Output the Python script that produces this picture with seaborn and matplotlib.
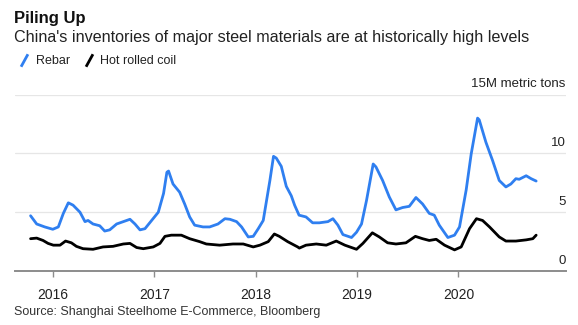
import matplotlib
matplotlib.use("Agg")
import matplotlib.pyplot as plt
from matplotlib.lines import Line2D
from matplotlib.path import Path
import pandas as pd
import seaborn as sns

# Weekly inventory readings, million metric tons
rebar_dates = [
    "2015-10-13", "2015-11-04", "2015-12-03", "2016-01-01", "2016-01-21", "2016-02-08",
    "2016-02-26", "2016-03-14", "2016-04-08", "2016-04-26", "2016-05-07", "2016-05-25",
    "2016-06-18", "2016-07-06", "2016-07-24", "2016-08-18", "2016-09-11", "2016-10-05",
    "2016-10-23", "2016-11-10", "2016-11-28", "2016-12-22", "2017-01-15", "2017-02-03",
    "2017-02-15", "2017-02-21", "2017-03-09", "2017-04-02", "2017-04-20", "2017-05-08",
    "2017-05-26", "2017-06-25", "2017-07-19", "2017-08-18", "2017-09-12", "2017-09-30",
    "2017-10-24", "2017-11-11", "2017-12-05", "2017-12-23", "2018-01-10", "2018-01-28",
    "2018-02-21", "2018-03-06", "2018-03-16", "2018-04-03", "2018-04-21", "2018-05-09",
    "2018-05-21", "2018-06-06", "2018-07-01", "2018-07-25", "2018-08-18", "2018-09-18",
    "2018-10-06", "2018-10-24", "2018-11-11", "2018-12-12", "2018-12-30", "2019-01-17",
    "2019-02-04", "2019-02-28", "2019-03-10", "2019-04-03", "2019-04-27", "2019-05-21",
    "2019-06-14", "2019-07-08", "2019-08-01", "2019-08-25", "2019-09-18", "2019-10-06",
    "2019-10-24", "2019-11-24", "2019-12-18", "2020-01-05", "2020-01-29", "2020-02-16",
    "2020-03-10", "2020-03-16", "2020-04-09", "2020-05-03", "2020-05-27", "2020-06-20",
    "2020-07-08", "2020-07-26", "2020-08-07", "2020-09-01", "2020-09-19", "2020-10-07",
]
rebar_values = [
    4.7, 4.0, 3.75, 3.55, 3.75, 4.9,
    5.8, 5.6, 5.0, 4.2, 4.3, 4.0,
    3.85, 3.4, 3.5, 4.0, 4.2, 4.4,
    4.0, 3.5, 3.6, 4.3, 5.0, 6.6,
    8.4, 8.5, 7.4, 6.7, 5.7, 4.6,
    3.9, 3.75, 3.75, 4.0, 4.45, 4.4,
    4.2, 3.75, 2.9, 2.95, 3.6, 4.3,
    7.7, 9.75, 9.6, 8.9, 7.2, 6.4,
    5.6, 4.75, 4.6, 4.1, 4.1, 4.2,
    4.45, 3.9, 3.1, 2.85, 3.3, 4.0,
    6.0, 9.1, 8.85, 7.7, 6.3, 5.2,
    5.4, 5.5, 6.25, 5.7, 4.9, 4.75,
    3.9, 2.85, 3.05, 3.75, 6.9, 9.95,
    13.0, 12.85, 10.95, 9.4, 7.7, 7.15,
    7.4, 7.85, 7.8, 8.1, 7.85, 7.65,
]

coil_dates = [
    "2015-10-13", "2015-11-04", "2015-11-27", "2015-12-15", "2016-01-03", "2016-01-27",
    "2016-02-16", "2016-03-08", "2016-03-26", "2016-04-19", "2016-05-25", "2016-06-30",
    "2016-08-05", "2016-09-11", "2016-10-05", "2016-10-29", "2016-11-22", "2016-12-28",
    "2017-01-21", "2017-02-08", "2017-03-03", "2017-04-08", "2017-05-08", "2017-06-13",
    "2017-07-07", "2017-08-24", "2017-10-11", "2017-11-17", "2017-12-23", "2018-01-16",
    "2018-02-15", "2018-03-09", "2018-03-27", "2018-04-26", "2018-06-01", "2018-06-07",
    "2018-07-01", "2018-08-07", "2018-09-12", "2018-10-18", "2018-11-18", "2018-12-30",
    "2019-01-22", "2019-02-25", "2019-03-22", "2019-04-21", "2019-05-21", "2019-06-26",
    "2019-07-30", "2019-08-25", "2019-09-18", "2019-10-13", "2019-11-12", "2019-12-18",
    "2020-01-11", "2020-02-10", "2020-03-06", "2020-03-28", "2020-04-22", "2020-05-27",
    "2020-06-20", "2020-07-26", "2020-09-01", "2020-09-25", "2020-10-07",
]
coil_values = [
    2.75, 2.8, 2.6, 2.35, 2.2, 2.2,
    2.55, 2.4, 2.1, 1.9, 1.85, 2.05,
    2.1, 2.3, 2.35, 2.0, 1.9, 2.05,
    2.35, 2.95, 3.05, 3.05, 2.75, 2.5,
    2.3, 2.2, 2.3, 2.3, 2.05, 2.2,
    2.5, 3.15, 2.95, 2.5, 2.05, 1.95,
    2.2, 2.3, 2.2, 2.55, 2.2, 1.85,
    2.35, 3.25, 2.9, 2.4, 2.3, 2.4,
    2.95, 2.75, 2.6, 2.7, 2.2, 1.8,
    2.05, 3.6, 4.45, 4.3, 3.75, 2.9,
    2.55, 2.55, 2.65, 2.75, 3.05,
]

series_names = ["Rebar", "Hot rolled coil"]
series_colors = ["#2f7ff0", "#000000"]
year_ticks = ["2016", "2017", "2018", "2019", "2020"]
y_ticks = [0, 5, 10, 15]

df = pd.concat([
    pd.DataFrame({"date": pd.to_datetime(rebar_dates), "value": rebar_values, "series": series_names[0]}),
    pd.DataFrame({"date": pd.to_datetime(coil_dates), "value": coil_values, "series": series_names[1]}),
], ignore_index=True)

sns.set_theme(style="white")
plt.rcParams["font.family"] = ["Liberation Sans", "DejaVu Sans"]

fig = plt.figure(figsize=(5.78, 3.25), dpi=100)
ax = fig.add_axes([0.026, 0.166, 0.953, 0.543])

sns.lineplot(data=df, x="date", y="value", hue="series", hue_order=series_names,
             palette=dict(zip(series_names, series_colors)), linewidth=2.0,
             legend=False, ax=ax, estimator=None)

ax.set_xlim(pd.Timestamp("2015-08-18"), pd.Timestamp("2021-01-22"))
ax.set_ylim(0, 15)
ax.set_xlabel("")
ax.set_ylabel("")

# horizontal gridlines
for v in y_ticks[1:]:
    ax.axhline(v, color="#e6e6e6", linewidth=0.9, zorder=0)

for side in ["top", "right", "left"]:
    ax.spines[side].set_visible(False)
ax.spines["bottom"].set_color("#8c8c8c")
ax.spines["bottom"].set_linewidth(1.4)

ax.set_xticks([pd.Timestamp(f"{y}-01-01") for y in year_ticks])
ax.set_xticklabels(year_ticks)
ax.tick_params(axis="x", direction="out", length=4, width=1.0, color="#8c8c8c",
               labelsize=10, labelcolor="#222222", pad=8, bottom=True)
ax.set_yticks([])

# value labels sit above their gridlines at the right edge
for v in y_ticks:
    label = "15M metric tons" if v == 15 else str(v)
    ax.annotate(label, xy=(1.0, v), xycoords=("axes fraction", "data"),
                xytext=(0, 3), textcoords="offset points",
                ha="right", va="bottom", fontsize=9.5, color="#222222")

fig.text(0.024, 0.93, "Piling Up", fontsize=12, fontweight="bold", color="#111111",
         ha="left", va="baseline")
fig.text(0.024, 0.87, "China's inventories of major steel materials are at historically high levels",
         fontsize=11.6, color="#222222", ha="left", va="baseline")

slash = Path([(-0.55, -1.0), (0.55, 1.0)], [Path.MOVETO, Path.LINETO])
handles = [Line2D([], [], linestyle="none", marker=slash, markersize=9,
                  markeredgewidth=2.0, color=c) for c in series_colors]
fig.legend(handles, series_names, loc="center left", bbox_to_anchor=(0.012, 0.812),
           ncol=2, frameon=False, fontsize=9, handlelength=1.0, handletextpad=0.4,
           columnspacing=1.0, labelcolor="#222222")

fig.text(0.024, 0.03, "Source: Shanghai Steelhome E-Commerce, Bloomberg",
         fontsize=9, color="#333333", ha="left", va="baseline")

fig.savefig("out.png", dpi=100, facecolor="white")
